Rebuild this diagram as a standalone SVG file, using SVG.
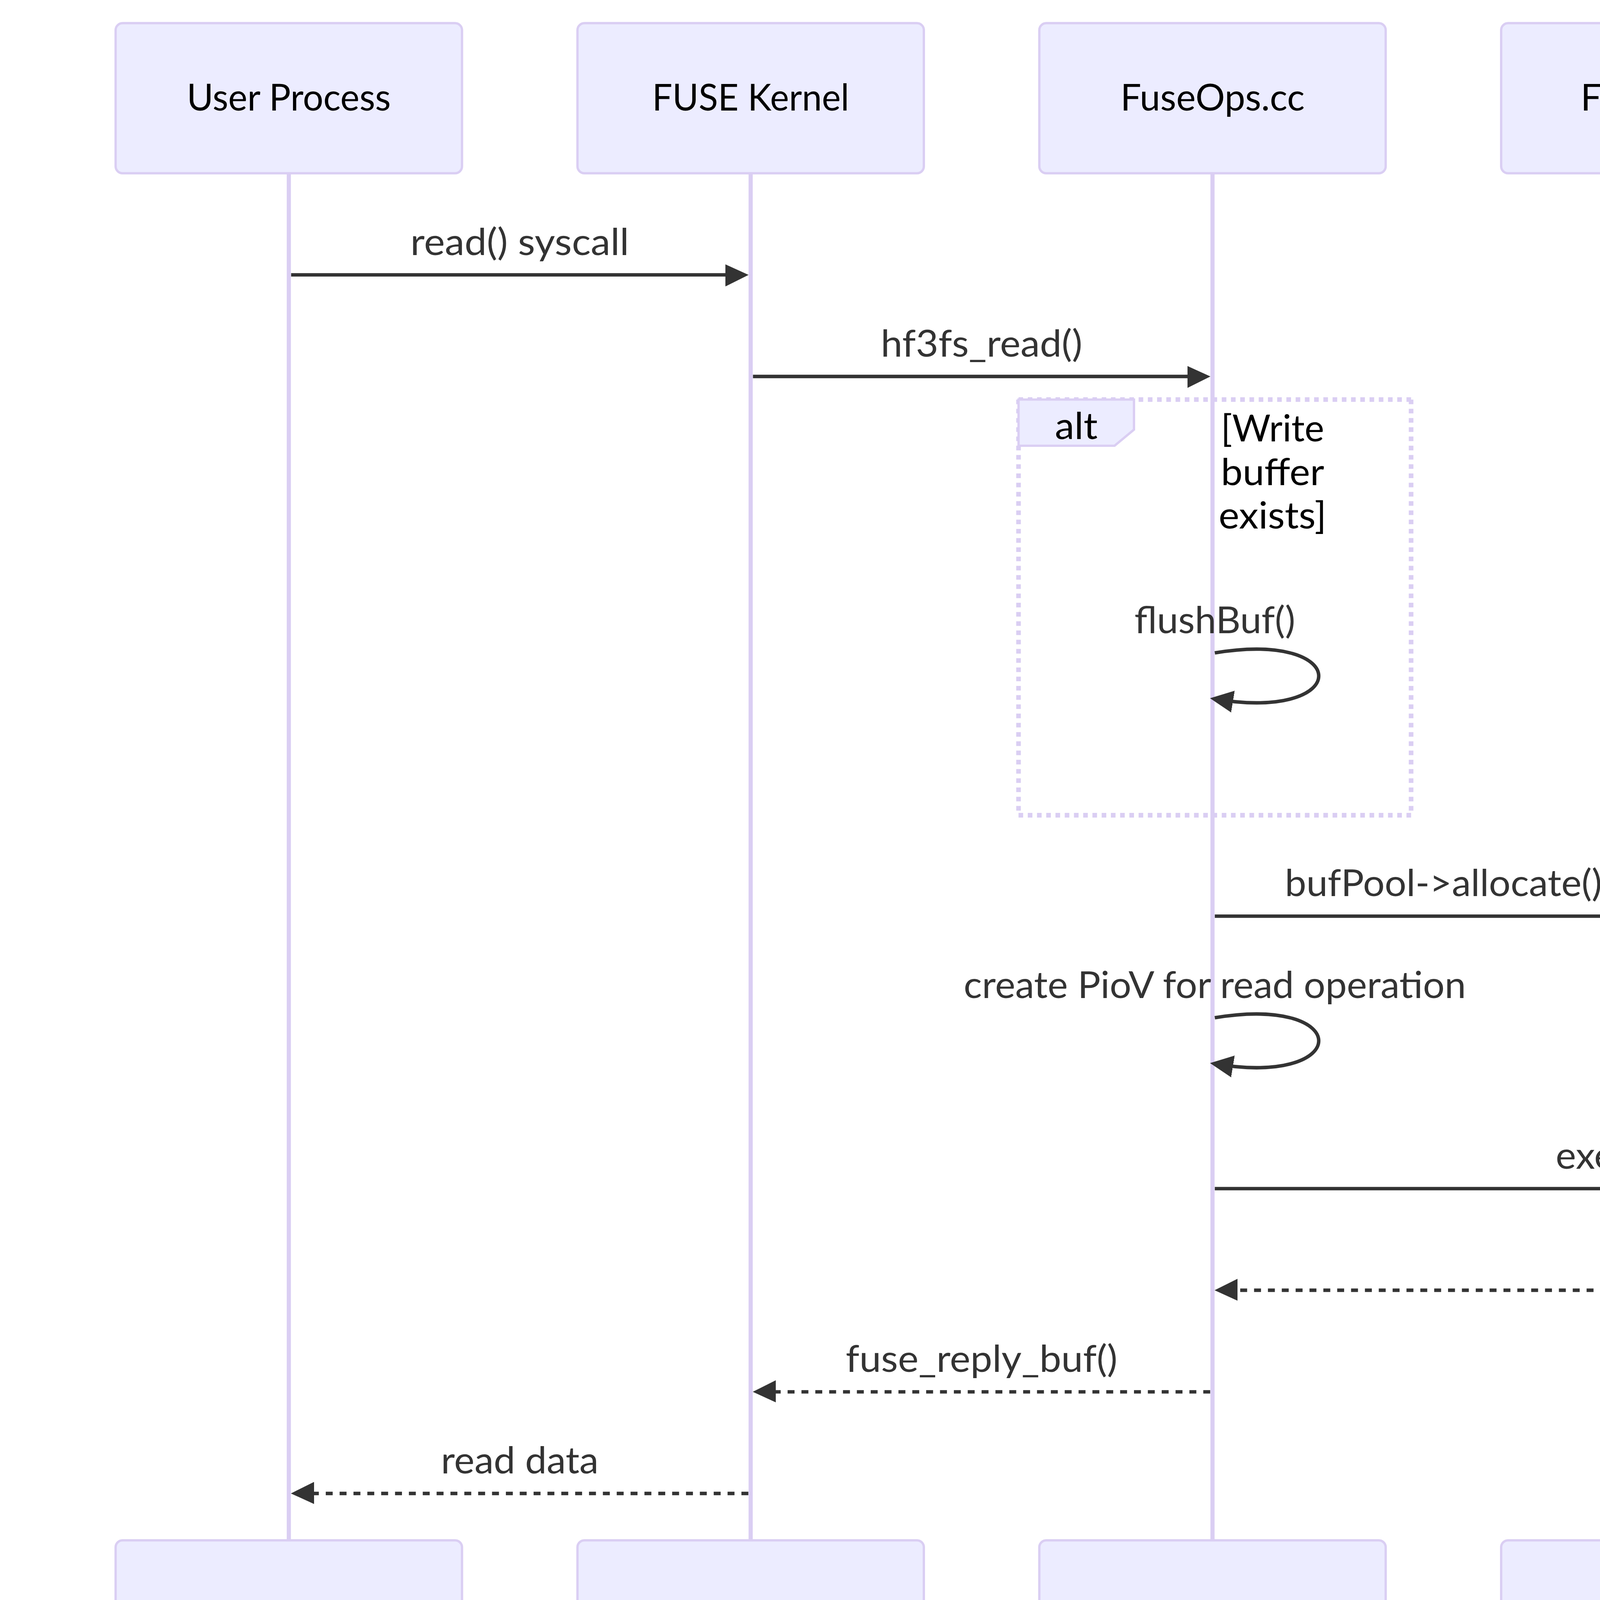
<svg xmlns="http://www.w3.org/2000/svg" width="6272" height="4440" viewBox="0 0 6272 4440">
<style>
.actor{fill:#ECECFF;stroke:#DACEF3;stroke-width:1}
.actor-text{font-family:Lato,"Liberation Sans",sans-serif;font-size:16px;fill:#000;text-anchor:middle}
.lifeline{stroke:#DACEF3;stroke-width:1.8}
.msg{stroke:#333;stroke-width:1.5;fill:none}
.dashed{stroke-dasharray:3,3}
.msg-text{font-family:Lato,"Liberation Sans",sans-serif;font-size:16px;fill:#333;text-anchor:middle}
.loop-line{stroke:#DACEF3;stroke-width:2;stroke-dasharray:2,2;fill:none}
.label-box{fill:#ECECFF;stroke:#DACEF3;stroke-width:1}
.label-text{font-family:Lato,"Liberation Sans",sans-serif;font-size:16px;fill:#000;text-anchor:middle}
</style>
<defs>
<marker id="arrowhead" refX="7.9" refY="5" markerUnits="userSpaceOnUse" markerWidth="12" markerHeight="12" orient="auto">
<path d="M -1 0 L 10 5 L 0 10 z" fill="#333"/>
</marker>
</defs>
<rect x="0" y="0" width="6272" height="4440" fill="#ffffff"/>
<g transform="matrix(5.9116 0 0 5.9116 296 59.3)">
<g id="actor-user-process">
<line class="lifeline" x1="75" y1="65" x2="75" y2="657"/>
<rect class="actor" x="0" y="0" width="150" height="65" rx="3" ry="3"/>
<text class="actor-text" x="75" y="37.9" textLength="88.3" lengthAdjust="spacingAndGlyphs">User Process</text>
<rect class="actor" x="0" y="657" width="150" height="65" rx="3" ry="3"/>
<text class="actor-text" x="75" y="694.9" textLength="88.3" lengthAdjust="spacingAndGlyphs">User Process</text>
</g>
<g id="actor-fuse-kernel">
<line class="lifeline" x1="275" y1="65" x2="275" y2="657"/>
<rect class="actor" x="200" y="0" width="150" height="65" rx="3" ry="3"/>
<text class="actor-text" x="275" y="37.9" textLength="85.3" lengthAdjust="spacingAndGlyphs">FUSE Kernel</text>
<rect class="actor" x="200" y="657" width="150" height="65" rx="3" ry="3"/>
<text class="actor-text" x="275" y="694.9" textLength="85.3" lengthAdjust="spacingAndGlyphs">FUSE Kernel</text>
</g>
<g id="actor-fuseops">
<line class="lifeline" x1="475" y1="65" x2="475" y2="657"/>
<rect class="actor" x="400" y="0" width="150" height="65" rx="3" ry="3"/>
<text class="actor-text" x="475" y="37.9" textLength="79.8" lengthAdjust="spacingAndGlyphs">FuseOps.cc</text>
<rect class="actor" x="400" y="657" width="150" height="65" rx="3" ry="3"/>
<text class="actor-text" x="475" y="694.9" textLength="79.8" lengthAdjust="spacingAndGlyphs">FuseOps.cc</text>
</g>
<g id="actor-fuseclients">
<line class="lifeline" x1="675" y1="65" x2="675" y2="657"/>
<rect class="actor" x="600" y="0" width="150" height="65" rx="3" ry="3"/>
<text class="actor-text" x="675" y="37.9" textLength="81.2" lengthAdjust="spacingAndGlyphs">FuseClients</text>
<rect class="actor" x="600" y="657" width="150" height="65" rx="3" ry="3"/>
<text class="actor-text" x="675" y="694.9" textLength="81.2" lengthAdjust="spacingAndGlyphs">FuseClients</text>
</g>
<g id="actor-storageclient">
<line class="lifeline" x1="875" y1="65" x2="875" y2="657"/>
<rect class="actor" x="800" y="0" width="150" height="65" rx="3" ry="3"/>
<text class="actor-text" x="875" y="37.9" textLength="96.1" lengthAdjust="spacingAndGlyphs">StorageClient</text>
<rect class="actor" x="800" y="657" width="150" height="65" rx="3" ry="3"/>
<text class="actor-text" x="875" y="694.9" textLength="96.1" lengthAdjust="spacingAndGlyphs">StorageClient</text>
</g>
<g id="alt-frame">
<line class="loop-line" x1="391" y1="163" x2="561" y2="163"/>
<line class="loop-line" x1="561" y1="163" x2="561" y2="343"/>
<line class="loop-line" x1="391" y1="343" x2="561" y2="343"/>
<line class="loop-line" x1="391" y1="163" x2="391" y2="343"/>
<polygon class="label-box" points="391,163 441,163 441,176 432.6,183 391,183"/>
<text class="label-text" x="416" y="180.1" textLength="18.5" lengthAdjust="spacingAndGlyphs">alt</text>
<text class="label-text" x="501" y="181.1" textLength="44.7" lengthAdjust="spacingAndGlyphs">[Write</text>
<text class="label-text" x="501" y="200" textLength="44.7" lengthAdjust="spacingAndGlyphs">buffer</text>
<text class="label-text" x="501" y="218.9" textLength="46.7" lengthAdjust="spacingAndGlyphs">exists]</text>
</g>
<g id="connectors">
<g id="msg-read-syscall">
<line class="msg" x1="76" y1="109" x2="272" y2="109" marker-end="url(#arrowhead)"/>
<text class="msg-text" x="175" y="100.4" textLength="94.7" lengthAdjust="spacingAndGlyphs">read() syscall</text>
</g>
<g id="msg-hf3fs-read">
<line class="msg" x1="276" y1="153" x2="472" y2="153" marker-end="url(#arrowhead)"/>
<text class="msg-text" x="375" y="144.4" textLength="87.3" lengthAdjust="spacingAndGlyphs">hf3fs_read()</text>
</g>
<g id="msg-flushbuf">
<path class="msg" d="M 476,272.7 C 536,262.7 536,302.7 476,292.7" marker-end="url(#arrowhead)"/>
<text class="msg-text" x="476" y="264.1" textLength="69.7" lengthAdjust="spacingAndGlyphs">flushBuf()</text>
</g>
<g id="msg-allocate">
<line class="msg" x1="476" y1="386.7" x2="672" y2="386.7" marker-end="url(#arrowhead)"/>
<text class="msg-text" x="575" y="378.1" textLength="137.3" lengthAdjust="spacingAndGlyphs">bufPool-&gt;allocate()</text>
</g>
<g id="msg-create-piov">
<path class="msg" d="M 476,430.7 C 536,420.7 536,460.7 476,450.7" marker-end="url(#arrowhead)"/>
<text class="msg-text" x="476" y="422.1" textLength="217.5" lengthAdjust="spacingAndGlyphs">create PioV for read operation</text>
</g>
<g id="msg-execute-read">
<line class="msg" x1="476" y1="504.7" x2="872" y2="504.7" marker-end="url(#arrowhead)"/>
<text class="msg-text" x="675" y="496.1" textLength="102.8" lengthAdjust="spacingAndGlyphs">executeRead()</text>
</g>
<g id="msg-data">
<line class="msg dashed" x1="874" y1="548.7" x2="478" y2="548.7" marker-end="url(#arrowhead)"/>
<text class="msg-text" x="675" y="540.1" textLength="31.8" lengthAdjust="spacingAndGlyphs">data</text>
</g>
<g id="msg-fuse-reply-buf">
<line class="msg dashed" x1="474" y1="592.7" x2="278" y2="592.7" marker-end="url(#arrowhead)"/>
<text class="msg-text" x="375" y="584.1" textLength="117.7" lengthAdjust="spacingAndGlyphs">fuse_reply_buf()</text>
</g>
<g id="msg-read-data">
<line class="msg dashed" x1="274" y1="636.7" x2="78" y2="636.7" marker-end="url(#arrowhead)"/>
<text class="msg-text" x="175" y="628.1" textLength="68.3" lengthAdjust="spacingAndGlyphs">read data</text>
</g>
</g>
</g>
</svg>
